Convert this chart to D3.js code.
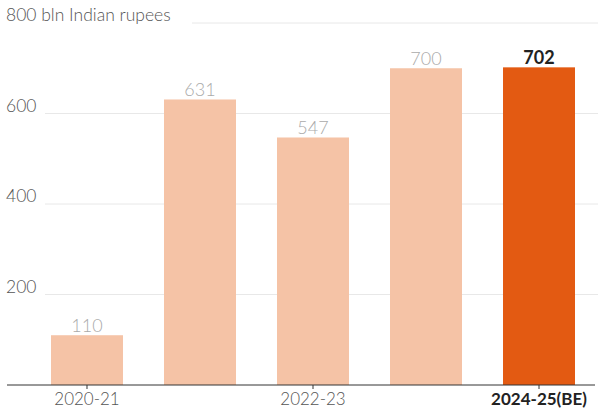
<!DOCTYPE html>
<html><head><meta charset="utf-8">
<script src="https://cdn.jsdelivr.net/npm/d3@7"></script>
<style>
body{margin:0;background:#fff;}
svg{display:block;font-family:Lato,"Open Sans",sans-serif;}
</style></head>
<body>
<svg id="c" width="615" height="413"></svg>
<script>
const categories = ["2020-21","2021-22","2022-23","2023-24","2024-25(BE)"];
const values = [110, 631, 547, 700, 702];
const highlight = [false,false,false,false,true];
const yTicks = [200,400,600,800];
const xTickLabels = ["2020-21","2022-23","2024-25(BE)"];
const unitLabel = "bln Indian rupees";

const svg = d3.select("#c");
const x = d3.scaleBand().domain(categories).range([31,595]).paddingInner(0.363).paddingOuter(0.177);
const y = d3.scaleLinear().domain([0,800]).range([385,23]);

// gridlines
const grid = svg.append("g");
yTicks.forEach(t=>{
  grid.append("line").attr("x1", t===800?192:45).attr("x2",598)
    .attr("y1",y(t)).attr("y2",y(t)).attr("stroke","#e8e8e8").attr("stroke-width",1);
});
// y labels
const yl = svg.append("g").attr("font-size",17.5).attr("fill","#555").attr("font-weight",300);
yTicks.forEach(t=>{
  yl.append("text").attr("x",6).attr("y",y(t)-2).text(t===800? t+" "+unitLabel : t);
});

// bars
svg.append("g").selectAll("rect").data(categories).join("rect")
  .attr("x",d=>x(d)).attr("width",x.bandwidth())
  .attr("y",(d,i)=>y(values[i])).attr("height",(d,i)=>y(0)-y(values[i]))
  .attr("fill",(d,i)=>highlight[i]?"#e35a12":"#f5c3a6");

// value labels
svg.append("g").selectAll("text").data(categories).join("text")
  .attr("x",d=>x(d)+x.bandwidth()/2).attr("y",(d,i)=>y(values[i])-3)
  .attr("text-anchor","middle").attr("font-size",18)
  .attr("font-weight",(d,i)=>highlight[i]?700:300)
  .attr("fill",(d,i)=>highlight[i]?"#222":"#aaa")
  .text((d,i)=>values[i]);

// x axis
const axis = d3.axisBottom(x).tickValues(xTickLabels).tickSize(4).tickPadding(4);
const ag = svg.append("g").attr("transform","translate(0,385)").call(axis);
ag.select(".domain").remove();
ag.selectAll(".tick line").attr("stroke","#333");
ag.selectAll(".tick text").attr("font-size",17).attr("font-family","Lato,'Open Sans',sans-serif")
  .attr("fill",d=>highlight[categories.indexOf(d)]?"#222":"#555")
  .attr("font-weight",d=>highlight[categories.indexOf(d)]?700:300);
svg.append("line").attr("x1",7).attr("x2",595).attr("y1",385).attr("y2",385).attr("stroke","#333").attr("stroke-width",1);
</script>
</body></html>
